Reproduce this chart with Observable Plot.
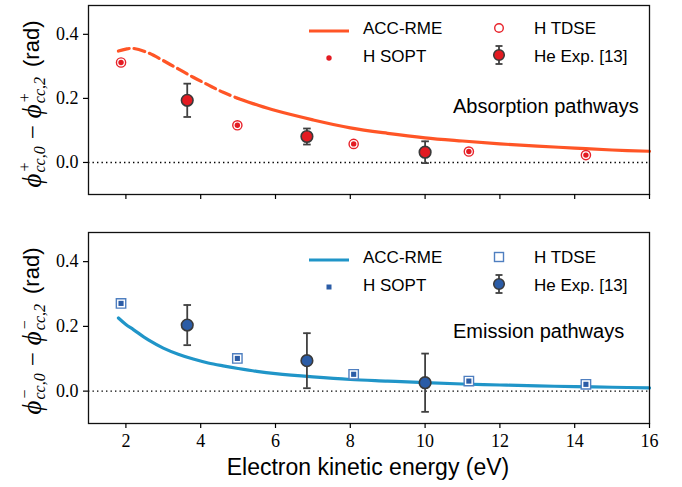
<!DOCTYPE html>
<html><head><meta charset="utf-8">
<script src="https://cdn.jsdelivr.net/npm/d3@7"></script>
<script src="https://cdn.jsdelivr.net/npm/@observablehq/plot@0.6"></script>
<style>
body{margin:0;background:#fff;}
#wrap{position:relative;width:682px;height:487px;overflow:hidden;font-family:"Liberation Sans",sans-serif;color:#000;}
.panel{position:absolute;left:0;}
.ylab{position:absolute;white-space:nowrap;transform:translate(-50%,-50%) rotate(-90deg);font-size:22px;line-height:1;display:flex;align-items:center;}
.m{font-family:"Liberation Serif",serif;font-style:italic;font-size:27px;}
.ss{display:inline-flex;flex-direction:column;font-family:"Liberation Serif",serif;font-style:italic;font-size:16px;line-height:0.95;margin-left:1px;vertical-align:middle;}
.op{font-family:"Liberation Serif",serif;font-size:25px;margin:0 7px;}
.rad{font-family:"Liberation Sans",sans-serif;font-size:22px;margin-left:10px;}
.leg{position:absolute;font-size:17px;white-space:nowrap;transform:translateY(-50%);}
.legm{position:absolute;transform:translate(-50%,-50%);}
.ann{position:absolute;font-size:20px;white-space:nowrap;}
.xlab{position:absolute;font-size:23px;white-space:nowrap;transform:translateX(-50%);}
</style></head><body><div id="wrap"></div>
<script>
// ---- data ----
const xTicks = [2, 4, 6, 8, 10, 12, 14, 16];
const yTicks = [0, 0.2, 0.4];
const theoryE = [1.87, 4.98, 8.09, 11.17, 14.30];
const absTDSE = [0.312, 0.116, 0.058, 0.034, 0.023];
const absSOPT = [0.312, 0.116, 0.058, 0.034, 0.023];
const emiTDSE = [0.271, 0.101, 0.052, 0.031, 0.021];
const emiSOPT = [0.271, 0.101, 0.052, 0.031, 0.021];
const expE = [3.64, 6.84, 10.0];
const absExp = [0.194, 0.081, 0.032];
const absExpErr = [0.052, 0.025, 0.034];
const emiExp = [0.204, 0.094, 0.026];
const emiExpErr = [0.062, 0.085, 0.090];
const curveE = [1.8, 2.0, 2.2, 2.6, 3.0, 3.4, 3.8, 4.2, 4.6, 5.0, 5.5, 6, 7, 8, 9, 10, 11, 12, 13, 14, 15, 16];
const absRME = [0.348, 0.354, 0.356, 0.342, 0.318, 0.292, 0.266, 0.242, 0.219, 0.200, 0.180, 0.162, 0.133, 0.108, 0.091, 0.077, 0.067, 0.058, 0.051, 0.045, 0.039, 0.035];
const emiRME = [0.226, 0.206, 0.190, 0.158, 0.133, 0.114, 0.099, 0.087, 0.078, 0.070, 0.061, 0.054, 0.044, 0.036, 0.031, 0.026, 0.022, 0.019, 0.016, 0.014, 0.012, 0.010];
const absDashedBelow = 5.0; // ACC-RME absorption curve drawn dashed below this energy
const legendLabels = ["ACC-RME", "H SOPT", "H TDSE", "He Exp. [13]"];
const panelNotes = ["Absorption pathways", "Emission pathways"];
const xLabel = "Electron kinetic energy (eV)";

const wrap = document.getElementById("wrap");
const capSymbol = {draw(ctx) { ctx.moveTo(-3.8, 0); ctx.lineTo(3.8, 0); }};

function makePanel(o) {
  const theory = theoryE.map((x, i) => ({x, tdse: o.tdse[i], sopt: o.sopt[i]}));
  const exp = expE.map((x, i) => ({x, y: o.exp[i], lo: o.exp[i] - o.err[i], hi: o.exp[i] + o.err[i]}));
  const curve = curveE.map((x, i) => ({x, y: o.curve[i]}));
  const solid = o.dashBelow ? curve.filter(d => d.x >= o.dashBelow) : curve;
  const dashed = o.dashBelow ? curve.filter(d => d.x <= o.dashBelow) : [];
  const sym = o.square ? "square" : "circle";
  const plot = Plot.plot({
    width: 682, height: o.height,
    marginLeft: 88, marginRight: 33, marginTop: o.mt, marginBottom: o.mb,
    x: {domain: [1, 16]},
    y: {domain: [-0.1, 0.49]},
    style: {fontFamily: "'Liberation Serif', serif", fontSize: "18px", color: "#000", background: "transparent"},
    marks: [
      Plot.ruleY([0], {stroke: "#000", strokeWidth: 1.4, strokeDasharray: "1.4,3.1"}),
      Plot.line(solid, {x: "x", y: "y", stroke: o.lineColor, strokeWidth: 3.2, curve: "catmull-rom"}),
      Plot.line(dashed, {x: "x", y: "y", stroke: o.lineColor, strokeWidth: 3.2, strokeDasharray: "11,5", curve: "catmull-rom"}),
      Plot.dot(theory, {x: "x", y: "tdse", symbol: sym, r: o.square ? 5.3 : 4.6, stroke: o.tdseColor, strokeWidth: 1.4, fill: "white"}),
      Plot.dot(theory, {x: "x", y: "sopt", symbol: sym, r: o.square ? 2.9 : 2.7, fill: o.ptColor, stroke: "none"}),
      Plot.ruleX(exp, {x: "x", y1: "lo", y2: "hi", stroke: "#404040", strokeWidth: 1.8}),
      Plot.dot(exp, {x: "x", y: "lo", symbol: capSymbol, stroke: "#404040", strokeWidth: 1.8}),
      Plot.dot(exp, {x: "x", y: "hi", symbol: capSymbol, stroke: "#404040", strokeWidth: 1.8}),
      Plot.dot(exp, {x: "x", y: "y", r: 5.8, fill: o.expFill, stroke: "#3a3a3a", strokeWidth: 1.6}),
      Plot.frame({stroke: "#111", strokeWidth: 1.3}),
      Plot.axisX({ticks: xTicks, tickSize: 5, tickPadding: 6, label: null, tickFormat: o.xLabels ? (d => d) : (() => ""), strokeWidth: 1.2}),
      Plot.axisY({ticks: yTicks, tickSize: 5, tickPadding: 5, label: null, tickFormat: d3.format(".1f"), strokeWidth: 1.2})
    ]
  });
  plot.classList.add("panel");
  plot.style.top = o.top + "px";
  wrap.appendChild(plot);
}

makePanel({top: 0, height: 206, mt: 5, mb: 12, tdse: absTDSE, sopt: absSOPT, exp: absExp, err: absExpErr,
  curve: absRME, dashBelow: absDashedBelow, lineColor: "#ff5526", tdseColor: "#e8232b", ptColor: "#e31b22", expFill: "#e31b22", square: false, xLabels: false});
makePanel({top: 227, height: 232, mt: 5, mb: 36, tdse: emiTDSE, sopt: emiSOPT, exp: emiExp, err: emiExpErr,
  curve: emiRME, dashBelow: null, lineColor: "#2095c8", tdseColor: "#4f7fc0", ptColor: "#2b5ca6", expFill: "#2b5ca6", square: true, xLabels: true});

// y labels
function yLabel(sign, cx, cy) {
  const d = document.createElement("div");
  d.className = "ylab";
  d.style.left = cx + "px"; d.style.top = cy + "px";
  d.innerHTML = `<span class="m">ϕ</span><span class="ss"><span>${sign}</span><span>cc,0</span></span>` +
    `<span class="op">−</span><span class="m">ϕ</span><span class="ss"><span>${sign}</span><span>cc,2</span></span>` +
    `<span class="rad">(rad)</span>`;
  wrap.appendChild(d);
}
yLabel("+", 32, 104);
yLabel("−", 32, 331);

// legends
function mk(svg, x, y) {
  const s = document.createElement("div");
  s.className = "legm"; s.style.left = x + "px"; s.style.top = y + "px";
  s.innerHTML = svg; wrap.appendChild(s);
}
function txt(t, x, y, cls) {
  const s = document.createElement("div");
  s.className = cls; s.style.left = x + "px"; s.style.top = y + "px";
  s.textContent = t; wrap.appendChild(s);
}
function legend(top, lineColor, tdseColor, ptColor, expFill, square) {
  const r1 = top, r2 = top + 28;
  mk(`<svg width="42" height="6"><line x1="1" x2="41" y1="3" y2="3" stroke="${lineColor}" stroke-width="3.2"/></svg>`, 329, r1);
  mk(square ? `<svg width="8" height="8"><rect x="1.5" y="1.5" width="5" height="5" fill="${ptColor}"/></svg>`
            : `<svg width="8" height="8"><circle cx="4" cy="4" r="2.7" fill="${ptColor}"/></svg>`, 329, r2);
  mk(square ? `<svg width="12" height="12"><rect x="1.5" y="1.5" width="9" height="9" fill="none" stroke="${tdseColor}" stroke-width="1.4"/></svg>`
            : `<svg width="12" height="12"><circle cx="6" cy="6" r="4.3" fill="none" stroke="${tdseColor}" stroke-width="1.4"/></svg>`, 499, r1);
  mk(`<svg width="14" height="22"><line x1="7" x2="7" y1="2" y2="20" stroke="#404040" stroke-width="1.8"/><line x1="3.5" x2="10.5" y1="2" y2="2" stroke="#404040" stroke-width="1.8"/><line x1="3.5" x2="10.5" y1="20" y2="20" stroke="#404040" stroke-width="1.8"/><circle cx="7" cy="11" r="5.3" fill="${expFill}" stroke="#3a3a3a" stroke-width="1.5"/></svg>`, 499, r2);
  txt(legendLabels[0], 363, r1, "leg");
  txt(legendLabels[1], 363, r2, "leg");
  txt(legendLabels[2], 534, r1, "leg");
  txt(legendLabels[3], 534, r2, "leg");
}
legend(29, "#ff5526", "#e8232b", "#e31b22", "#e31b22", false);
legend(258, "#2095c8", "#4f7fc0", "#2b5ca6", "#2b5ca6", true);

txt(panelNotes[0], 453, 95, "ann");
txt(panelNotes[1], 453, 320, "ann");
txt(xLabel, 368, 454, "xlab");
</script></body></html>
